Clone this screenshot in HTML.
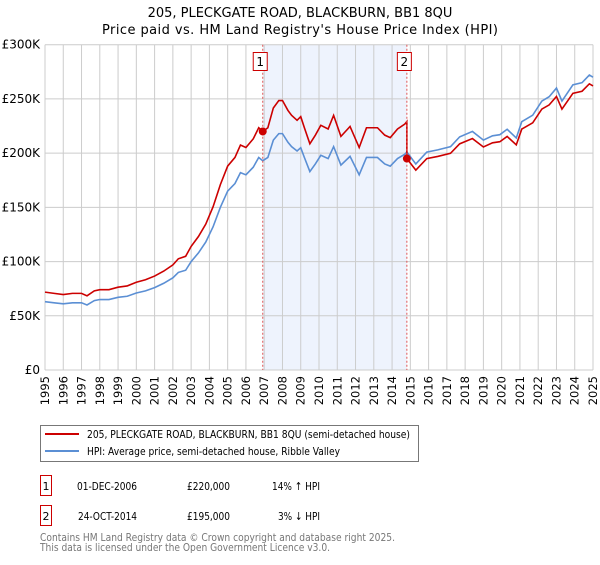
<!DOCTYPE html>
<html><head><meta charset="utf-8"><style>
body{margin:0;background:#fff;font-family:"Liberation Sans","DejaVu Sans",sans-serif;}
svg text{font-family:"DejaVu Sans","Liberation Sans",sans-serif;}
</style></head><body>
<svg id="chart" width="600" height="560" xmlns="http://www.w3.org/2000/svg">
<text x="300" y="17" text-anchor="middle" font-size="13">205, PLECKGATE ROAD, BLACKBURN, BB1 8QU</text>
<text x="300" y="34" text-anchor="middle" font-size="13" textLength="396">Price paid vs. HM Land Registry's House Price Index (HPI)</text>
<g id="plot"></g>
<g>
<rect x="40.5" y="425.5" width="378" height="36" fill="#fff" stroke="#777"/>
<line x1="45" y1="434" x2="79" y2="434" stroke="#cc0000" stroke-width="2"/>
<text x="87" y="438" font-size="11" textLength="323" lengthAdjust="spacingAndGlyphs">205, PLECKGATE ROAD, BLACKBURN, BB1 8QU (semi-detached house)</text>
<line x1="45" y1="451" x2="79" y2="451" stroke="#5b8fd4" stroke-width="2"/>
<text x="87" y="455" font-size="11" textLength="253" lengthAdjust="spacingAndGlyphs">HPI: Average price, semi-detached house, Ribble Valley</text>
</g>
<g font-size="11">
<rect x="40.5" y="475.5" width="11" height="20" fill="none" stroke="#cc0000"/>
<text x="46" y="490" text-anchor="middle">1</text>
<text x="77" y="490" textLength="60" lengthAdjust="spacingAndGlyphs">01-DEC-2006</text>
<text x="187" y="490" textLength="43" lengthAdjust="spacingAndGlyphs">£220,000</text>
<text x="272" y="490" textLength="48" lengthAdjust="spacingAndGlyphs">14% ↑ HPI</text>
<rect x="40.5" y="505.5" width="11" height="20" fill="none" stroke="#cc0000"/>
<text x="46" y="520" text-anchor="middle">2</text>
<text x="78" y="520" textLength="59" lengthAdjust="spacingAndGlyphs">24-OCT-2014</text>
<text x="187" y="520" textLength="43" lengthAdjust="spacingAndGlyphs">£195,000</text>
<text x="278" y="520" textLength="42" lengthAdjust="spacingAndGlyphs">3% ↓ HPI</text>
</g>
<text x="40" y="541" font-size="10.5" fill="#777" textLength="355" lengthAdjust="spacingAndGlyphs">Contains HM Land Registry data © Crown copyright and database right 2025.</text>
<text x="40" y="551" font-size="10.5" fill="#777" textLength="290" lengthAdjust="spacingAndGlyphs">This data is licensed under the Open Government Licence v3.0.</text>
</svg>
<script>
const hpiYears=[1995,1995.5,1996,1996.5,1997,1997.3,1997.7,1998,1998.5,1999,1999.5,2000,2000.5,2001,2001.5,2002,2002.3,2002.7,2003,2003.4,2003.8,2004.2,2004.6,2005,2005.4,2005.7,2006,2006.4,2006.7,2006.92,2007.2,2007.5,2007.8,2008,2008.3,2008.5,2008.8,2009,2009.2,2009.5,2009.8,2010.1,2010.5,2010.8,2011.2,2011.7,2012.2,2012.6,2013.2,2013.6,2013.9,2014.3,2014.7,2014.81,2015.3,2015.9,2016.5,2017.2,2017.7,2018.4,2019,2019.5,2019.9,2020.3,2020.8,2021.1,2021.7,2022.2,2022.6,2023,2023.3,2023.9,2024.4,2024.8,2025];
const hpiValues=[63,62,61,62,62,60,64,65,65,67,68,71,73,76,80,85,90,92,100,108,118,132,150,165,172,182,180,187,196,193,196,212,218,218,210,206,202,205,196,183,190,198,195,206,189,197,180,196,196,190,188,195,199,201,190,201,203,206,215,220,212,216,217,222,214,229,235,248,252,260,248,263,265,272,270];
const saleYears=[2006.92,2014.81];
const salePrices=[220,195];
const yTicks=[0,50,100,150,200,250,300];
const yTickLabels=["£0","£50K","£100K","£150K","£200K","£250K","£300K"];
const xTicks=[1995,1996,1997,1998,1999,2000,2001,2002,2003,2004,2005,2006,2007,2008,2009,2010,2011,2012,2013,2014,2015,2016,2017,2018,2019,2020,2021,2022,2023,2024,2025];

const X0=45,X1=593,Y0=370,Y1=44.7;
const xs=y=>X0+(y-1995)/30*(X1-X0);
const ys=v=>Y0-v/300*(Y0-Y1);
const NS="http://www.w3.org/2000/svg";
const plot=document.getElementById('plot');
function mk(tag,attrs,parent){const e=document.createElementNS(NS,tag);for(const k in attrs)e.setAttribute(k,attrs[k]);(parent||plot).appendChild(e);return e;}

let e=mk('rect',{x:X0,y:Y1,width:X1-X0,height:Y0-Y1,fill:'#fff'});


e=mk('rect',{x:xs(saleYears[0]),y:Y1,width:xs(saleYears[1])-xs(saleYears[0]),height:Y0-Y1,fill:'#eef3fd'});


yTicks.forEach((t,i)=>{
  e=mk('line',{x1:X0,x2:X1,y1:ys(t),y2:ys(t),stroke:'#ccc','stroke-width':1});
  
  
  e=mk('text',{x:X0-5,y:ys(t)+4,'text-anchor':'end','font-size':12});
  e.textContent=yTickLabels[i];
  
  
});
xTicks.forEach(t=>{
  e=mk('line',{x1:xs(t),x2:xs(t),y1:Y1,y2:Y0,stroke:'#ccc','stroke-width':1});
  
  
  const tx=xs(t)+4, ty=Y0+6;
  e=mk('text',{x:tx,y:ty,'text-anchor':'end','font-size':11.5,transform:'rotate(-90 '+tx+' '+ty+')'});
  e.textContent=String(t);
  
  
});
function hpiAt(y){for(let i=1;i<hpiYears.length;i++){if(y<=hpiYears[i]){const f=(y-hpiYears[i-1])/(hpiYears[i]-hpiYears[i-1]);return hpiValues[i-1]+f*(hpiValues[i]-hpiValues[i-1]);}}return hpiValues[hpiValues.length-1];}
const k1=salePrices[0]/hpiAt(saleYears[0]), k2=salePrices[1]/hpiAt(saleYears[1]);
let redPts=[];
hpiYears.forEach((y,i)=>{
  if(y<saleYears[1]) redPts.push([xs(y),ys(hpiValues[i]*k1)]);
  else if(y===saleYears[1]){redPts.push([xs(y),ys(hpiValues[i]*k1)]);redPts.push([xs(y),ys(hpiValues[i]*k2)]);}
  else redPts.push([xs(y),ys(hpiValues[i]*k2)]);
});
e=mk('polyline',{points:hpiYears.map((y,i)=>xs(y)+','+ys(hpiValues[i])).join(' '),fill:'none',stroke:'#5b8fd4','stroke-width':1.6});


e=mk('polyline',{points:redPts.map(p=>p.join(',')).join(' '),fill:'none',stroke:'#cc0000','stroke-width':1.6});


saleYears.forEach((y,i)=>{
  e=mk('line',{x1:xs(y),x2:xs(y),y1:Y1,y2:Y0,stroke:'#e05555','stroke-width':1,'stroke-dasharray':'2,2'});
  
  
  e=mk('circle',{cx:xs(y),cy:ys(salePrices[i]),r:4,fill:'#cc0000'});
  
  
  e=mk('rect',{x:xs(y)-9.5,y:52.5,width:14,height:18,fill:'#fff',stroke:'#cc0000'});
  
  
  e=mk('text',{x:xs(y)-2.5,y:66,'text-anchor':'middle','font-size':12});
  e.textContent=String(i+1);
  
  
});
</script>
</body></html>
